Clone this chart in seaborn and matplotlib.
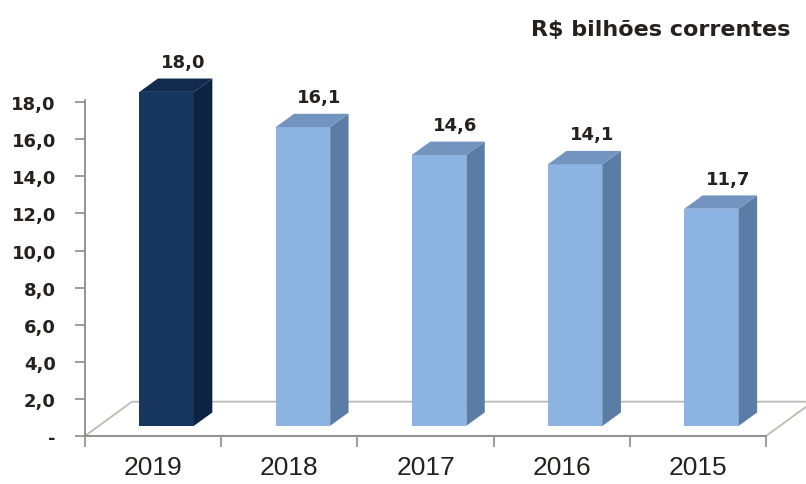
import seaborn as sns
import pandas as pd
import numpy as np
import matplotlib.pyplot as plt
from matplotlib.patches import Polygon

years = ['2019', '2018', '2017', '2016', '2015']
values = [18.0, 16.1, 14.6, 14.1, 11.7]
value_labels = ['18,0', '16,1', '14,6', '14,1', '11,7']
front_colors = ['#16365F', '#8DB3E2', '#8DB3E2', '#8DB3E2', '#8DB3E2']
side_colors = ['#0E2341', '#5B7DA5', '#5B7DA5', '#5B7DA5', '#5B7DA5']
top_colors = ['#112B4E', '#7394BF', '#7394BF', '#7394BF', '#7394BF']
yticks = [0, 2, 4, 6, 8, 10, 12, 14, 16, 18]
yticklabels = ['-', '2,0', '4,0', '6,0', '8,0', '10,0', '12,0', '14,0', '16,0', '18,0']

sns.set_theme(style='ticks')
plt.rcParams['font.family'] = ['DejaVu Sans']
grey = '#8C8C8C'
txt = '#262020'

fig = plt.figure(figsize=(8.06, 4.85), dpi=100)
ax = fig.add_axes([85 / 806, 48 / 485, 681 / 806, 371 / 485])

df = pd.DataFrame({'ano': years, 'valor': values})
sns.barplot(data=df, x='ano', y='valor', hue='ano', order=years, hue_order=years,
            palette=front_colors, saturation=1, width=0.40, legend=False,
            linewidth=0, edgecolor='none', zorder=3, ax=ax)

# pseudo 3D depth
base = 0.55
dx, dy = 0.135, 0.72
shift = 0.10
bars = list(ax.patches)
for p, sc, tc, lab in zip(bars, side_colors, top_colors, value_labels):
    x0 = p.get_x() + shift
    w = p.get_width()
    h = p.get_height()
    p.set_x(x0)
    p.set_y(base)
    x1 = x0 + w
    top = base + h
    ax.add_patch(Polygon([(x1, base), (x1 + dx, base + dy), (x1 + dx, top + dy), (x1, top)],
                         closed=True, fc=sc, ec='none', zorder=3))
    ax.add_patch(Polygon([(x0, top), (x0 + dx, top + dy), (x1 + dx, top + dy), (x1, top)],
                         closed=True, fc=tc, ec='none', zorder=3))
    ax.text(x0 + w / 2 + 0.12, top + dy + 0.4, lab, ha='center', va='bottom',
            fontsize=13, fontweight='bold', color=txt, clip_on=False)

# floor
fdx, fdy = 0.345, 1.85
n = len(years)
ax.add_patch(Polygon([(-0.5, 0), (n - 0.5, 0), (n - 0.5 + fdx, fdy), (-0.5 + fdx, fdy)],
                     closed=True, fc='white', ec='#BDBAB5', lw=1.3, zorder=1, clip_on=False))

ax.set_xlim(-0.5, n - 0.5)
ax.set_ylim(0, 20)
ax.set_xlabel('')
ax.set_ylabel('')

sns.despine(ax=ax)
ax.spines['left'].set_bounds(0, 18.1)
for s in ['left', 'bottom']:
    ax.spines[s].set_color(grey)
    ax.spines[s].set_linewidth(1.3)
    ax.spines[s].set_zorder(2)

ax.set_yticks(yticks)
ax.set_yticklabels(yticklabels, fontweight='bold', fontsize=13, color=txt)
ax.tick_params(axis='y', length=7, width=1.2, color=grey, pad=14, left=True)

ax.set_xticks(range(n))
ax.set_xticklabels(years, fontfamily='Liberation Sans', fontsize=19, color=txt)
ax.set_xticks(np.arange(-0.5, n, 1), minor=True)
ax.tick_params(axis='x', which='major', length=0, pad=14)
ax.tick_params(axis='x', which='minor', length=8, width=1.2, color=grey, bottom=True)

fig.text(790 / 806, 1 - 30 / 485, 'R\\$ bilhões correntes', ha='right', va='center',
         fontsize=16, fontweight='bold', color=txt)

fig.savefig('out.png', dpi=100, facecolor='white')
